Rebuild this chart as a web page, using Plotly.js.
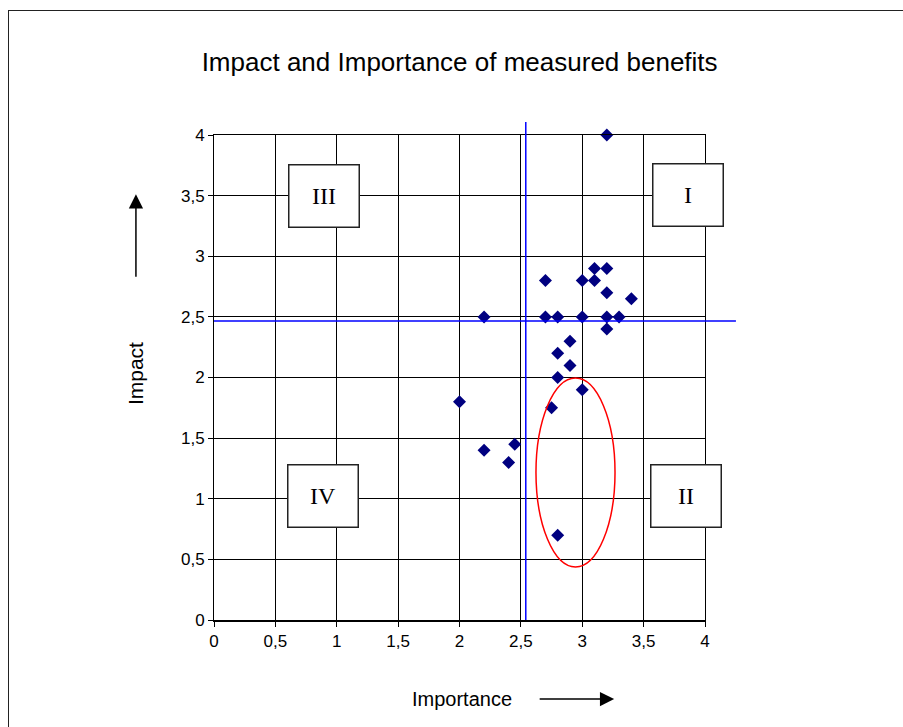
<!DOCTYPE html>
<html>
<head>
<meta charset="utf-8">
<script src="https://cdn.plot.ly/plotly-3.0.1.min.js"></script>
<style>
  html, body { margin: 0; padding: 0; background: #fff; overflow: hidden; }
  #chart { width: 903px; height: 727px; position: absolute; left: 0; top: 0; }
  #frame { position: absolute; left: 8px; top: 10px; width: 1000px; height: 1000px;
           border-left: 1.5px solid #222; border-top: 1.5px solid #222; pointer-events: none; }
</style>
</head>
<body>
<div id="chart"></div>
<div id="frame"></div>
<script>
// ---- data ----
var importance = [3.2, 3.1, 3.2, 2.7, 3.0, 3.1, 3.2, 3.4, 2.2, 2.7, 2.8, 3.0, 3.2, 3.3, 3.2, 2.9, 2.8, 2.9, 2.8, 3.0, 2.75, 2.0, 2.45, 2.2, 2.4, 2.8];
var impact     = [4.0, 2.9, 2.9, 2.8, 2.8, 2.8, 2.7, 2.65, 2.5, 2.5, 2.5, 2.5, 2.5, 2.5, 2.4, 2.3, 2.2, 2.1, 2.0, 1.9, 1.75, 1.8, 1.45, 1.4, 1.3, 0.7];
var importanceThreshold = 2.54;
var impactThreshold = 2.466;
var ellipseX = [2.623, 3.267];
var ellipseY = [0.437, 1.996];
var quadrantLabels = ["III", "I", "IV", "II"];
var axisRange = [0, 4];

var px = function (v) { return (v - axisRange[0]) / (axisRange[1] - axisRange[0]); };
var SANS = 'Liberation Sans, Arial, sans-serif';

var trace = {
  x: importance, y: impact, type: 'scatter', mode: 'markers', cliponaxis: false,
  marker: { symbol: 'diamond', size: 10, color: '#000080', line: { width: 0 } },
  hoverinfo: 'x+y'
};

var boxPos = [[0.224, 0.875], [0.965, 0.876], [0.222, 0.256], [0.962, 0.256]];
var annotations = quadrantLabels.map(function (t, i) {
  return {
    xref: 'paper', yref: 'paper', x: boxPos[i][0], y: boxPos[i][1],
    text: t, showarrow: false,
    font: { family: 'Liberation Serif, Times New Roman, serif', size: 24, color: '#000' },
    bgcolor: '#fff', bordercolor: '#222', borderwidth: 1.5, borderpad: 0,
    width: 69, height: 61, xanchor: 'center', yanchor: 'middle'
  };
});
annotations.push({
  xref: 'paper', yref: 'paper', x: 0.505, y: -0.163, text: 'Importance', showarrow: false,
  font: { family: SANS, size: 20, color: '#000' },
  xanchor: 'center', yanchor: 'middle'
});
annotations.push({
  xref: 'paper', yref: 'paper', x: -0.161, y: 0.509, text: 'Impact', showarrow: false,
  textangle: -90,
  font: { family: SANS, size: 21, color: '#000' },
  xanchor: 'center', yanchor: 'middle'
});
// arrows
annotations.push({
  xref: 'paper', yref: 'paper', x: 0.815, y: -0.163, ax: -76, ay: 0, text: '',
  showarrow: true, arrowhead: 2, arrowsize: 1.9, arrowwidth: 1.5, arrowcolor: '#000'
});
annotations.push({
  xref: 'paper', yref: 'paper', x: -0.159, y: 0.878, ax: 0, ay: 84, text: '',
  showarrow: true, arrowhead: 2, arrowsize: 1.9, arrowwidth: 1.5, arrowcolor: '#000'
});

var shapes = [
  { type: 'line', xref: 'paper', yref: 'paper',
    x0: px(importanceThreshold), x1: px(importanceThreshold), y0: 0, y1: 1.027,
    line: { color: '#0000ff', width: 1.5 } },
  { type: 'line', xref: 'paper', yref: 'paper',
    x0: 0, x1: 1.063, y0: px(impactThreshold), y1: px(impactThreshold),
    line: { color: '#0000ff', width: 1.5 } },
  { type: 'circle', xref: 'x', yref: 'y',
    x0: ellipseX[0], x1: ellipseX[1], y0: ellipseY[0], y1: ellipseY[1],
    line: { color: '#ff0000', width: 1.5 } }
];

var axisCommon = {
  range: axisRange, dtick: 0.5, tick0: 0, showgrid: true, gridcolor: '#000', gridwidth: 1,
  zeroline: false, showline: true, linecolor: '#000', linewidth: 1, mirror: true,
  ticks: 'outside', ticklen: 5, tickcolor: '#000', tickwidth: 1,
  tickfont: { family: SANS, size: 17, color: '#000' },
  fixedrange: true
};

var layout = {
  width: 903, height: 727,
  margin: { l: 214, r: 198, t: 135, b: 107 },
  paper_bgcolor: '#fff', plot_bgcolor: '#fff',
  separators: ', ',
  showlegend: false,
  title: {
    text: 'Impact and Importance of measured benefits',
    font: { family: SANS, size: 26, color: '#000' },
    x: 0.509, xanchor: 'center', y: 0.915, yanchor: 'middle', yref: 'container'
  },
  xaxis: Object.assign({}, axisCommon, { linewidth: 1.5 }),
  yaxis: Object.assign({}, axisCommon),
  shapes: shapes,
  annotations: annotations
};

Plotly.newPlot('chart', [trace], layout, { displayModeBar: false, staticPlot: true });
</script>
</body>
</html>
